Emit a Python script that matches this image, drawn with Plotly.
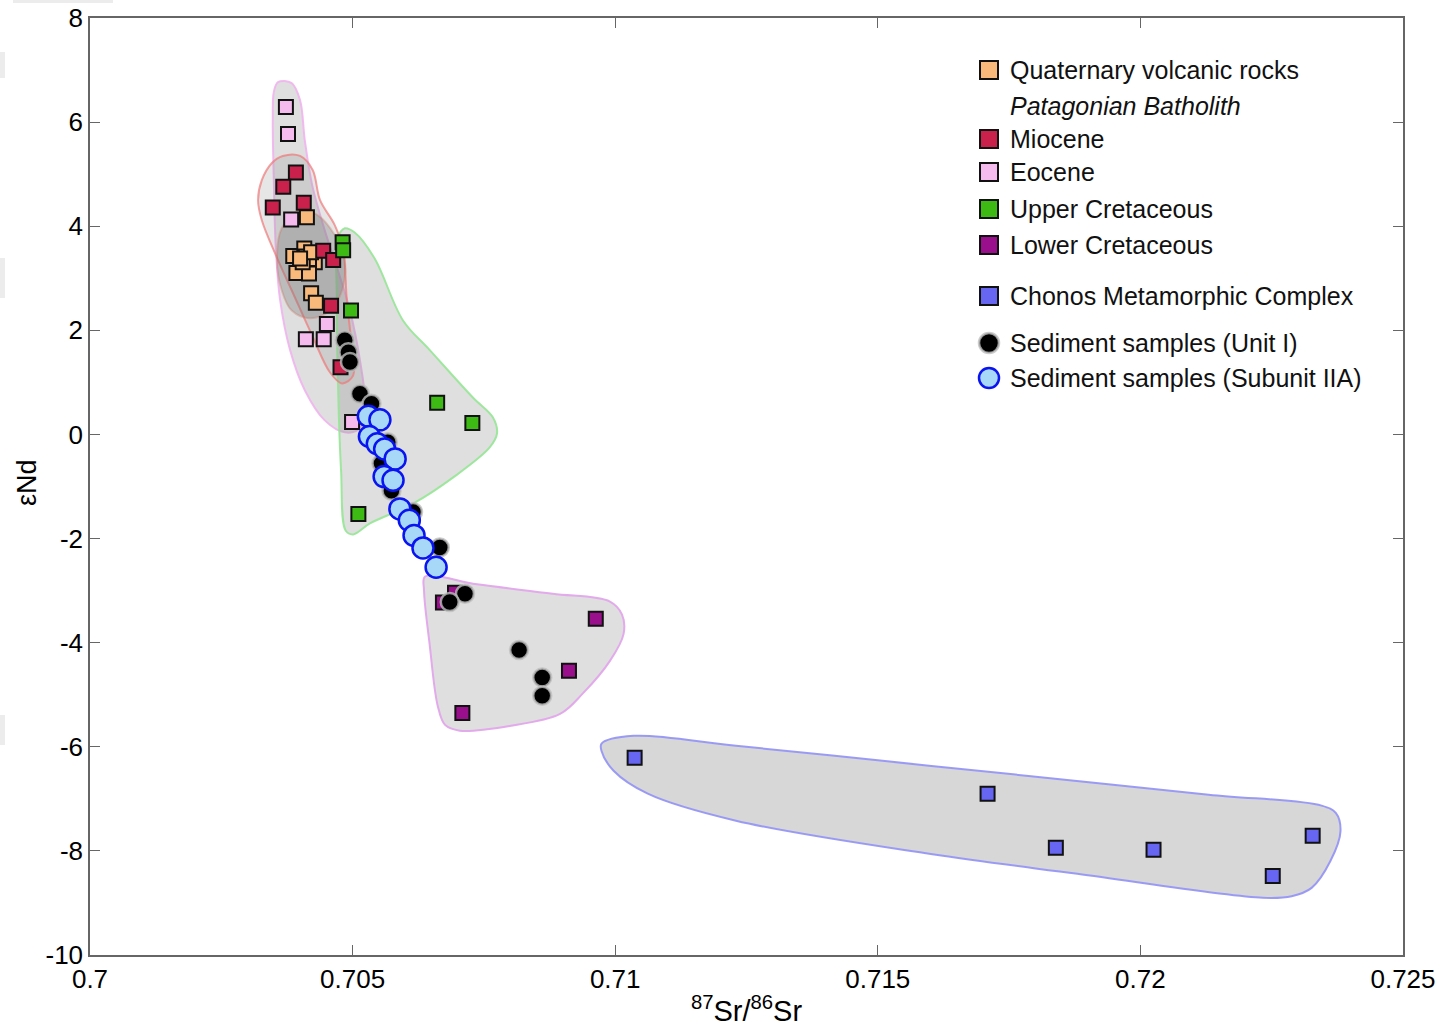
import plotly.graph_objects as go

# ---------------- data (87Sr/86Sr, eNd) ----------------
quat_x = [0.70413, 0.70387, 0.70408, 0.70428, 0.70393, 0.70417, 0.70421, 0.70430,
          0.70411, 0.70417, 0.70405, 0.70421, 0.70400]
quat_y = [4.17, 3.43, 3.57, 3.31, 3.10, 3.09, 2.71, 2.53, 3.42, 3.37, 3.31, 3.50, 3.38]

mio_x = [0.70392, 0.70368, 0.70348, 0.70407, 0.70444, 0.70463, 0.70459, 0.70477]
mio_y = [5.03, 4.76, 4.36, 4.45, 3.53, 3.35, 2.47, 1.29]

eoc_x = [0.70373, 0.70377, 0.70383, 0.70451, 0.70411, 0.70445, 0.70499]
eoc_y = [6.29, 5.77, 4.13, 2.12, 1.83, 1.83, 0.24]

ucr_x = [0.70481, 0.70482, 0.70497, 0.70661, 0.70728, 0.70511]
ucr_y = [3.69, 3.54, 2.38, 0.61, 0.22, -1.53]

lcr_x = [0.70963, 0.70912, 0.70709, 0.70672, 0.70695]
lcr_y = [-3.54, -4.54, -5.35, -3.23, -3.04]

cho_x = [0.71037, 0.71709, 0.71839, 0.72025, 0.72252, 0.72328]
cho_y = [-6.21, -6.90, -7.94, -7.98, -8.48, -7.71]

u1_x = [0.70485, 0.70492, 0.70495, 0.70514, 0.70536, 0.70567, 0.70555, 0.70574,
        0.70615, 0.70666, 0.70714, 0.70685, 0.70817, 0.70861, 0.70861]
u1_y = [1.81, 1.58, 1.39, 0.78, 0.59, -0.15, -0.56, -1.08,
        -1.49, -2.17, -3.06, -3.22, -4.14, -4.67, -5.02]

u2_x = [0.70530, 0.70552, 0.70532, 0.70547, 0.70561, 0.70581, 0.70560, 0.70577,
        0.70590, 0.70608, 0.70617, 0.70634, 0.70659]
u2_y = [0.35, 0.28, -0.04, -0.18, -0.28, -0.47, -0.81, -0.88,
        -1.43, -1.65, -1.94, -2.18, -2.55]

# ---------------- field outlines (data units) ----------------
eoc_fx = [0.70358, 0.70384, 0.70400, 0.70409, 0.70423, 0.70447, 0.70472, 0.70495, 0.70514,
          0.70523, 0.70514, 0.70485, 0.70447, 0.70409, 0.70381, 0.70362, 0.70354, 0.70350,
          0.70348, 0.70350, 0.70358]
eoc_fy = [6.77, 6.75, 6.42, 5.65, 4.79, 3.92, 3.15, 2.38, 1.42,
          0.65, 0.12, 0.04, 0.27, 0.85, 1.62, 2.58, 3.54, 4.88,
          6.04, 6.58, 6.77]

mio_fx = [0.70367, 0.70400, 0.70424, 0.70438, 0.70466, 0.70482, 0.70489, 0.70499, 0.70501,
          0.70480, 0.70457, 0.70423, 0.70384, 0.70354, 0.70327, 0.70320, 0.70327, 0.70346,
          0.70367]
mio_fy = [5.35, 5.35, 5.08, 4.50, 4.02, 3.54, 2.58, 1.62, 1.13,
          0.98, 1.19, 1.90, 2.77, 3.44, 4.12, 4.50, 4.88, 5.21,
          5.35]

quat_fx = [0.70400, 0.70434, 0.70466, 0.70485, 0.70480, 0.70457, 0.70419, 0.70384,
           0.70365, 0.70356, 0.70365, 0.70400]
quat_fy = [4.31, 4.21, 3.83, 3.35, 2.77, 2.38, 2.23, 2.38,
           2.77, 3.35, 3.96, 4.31]

ucr_fx = [0.70472, 0.70485, 0.70504, 0.70542, 0.70596, 0.70647, 0.70729, 0.70767, 0.70775,
          0.70761, 0.70691, 0.70615, 0.70533, 0.70501, 0.70487, 0.70478, 0.70472, 0.70470,
          0.70472]
ucr_fy = [3.77, 3.96, 3.88, 3.38, 2.19, 1.62, 0.71, 0.33, 0.02,
          -0.25, -0.83, -1.33, -1.71, -1.92, -1.85, -0.69, 1.04, 2.58,
          3.77]

lcr_fx = [0.70638, 0.70737, 0.70881, 0.70990, 0.71013, 0.71016, 0.70990, 0.70938, 0.70895,
          0.70799, 0.70704, 0.70676, 0.70662, 0.70647, 0.70636, 0.70638]
lcr_fy = [-2.73, -2.88, -3.06, -3.21, -3.46, -3.83, -4.35, -4.98, -5.37,
          -5.60, -5.69, -5.58, -5.21, -4.06, -3.00, -2.73]

cho_fx = [0.70974, 0.71035, 0.71230, 0.71509, 0.71787, 0.72130, 0.72345, 0.72372, 0.72381,
          0.72362, 0.72326, 0.72288, 0.72233, 0.71880, 0.71601, 0.71230, 0.71062, 0.70997,
          0.70974, 0.70974]
cho_fy = [-5.94, -5.79, -5.98, -6.27, -6.56, -6.92, -7.13, -7.27, -7.62,
          -8.19, -8.71, -8.87, -8.90, -8.44, -8.06, -7.42, -6.90, -6.46,
          -6.08, -5.94]

x_ticks = [0.7, 0.705, 0.71, 0.715, 0.72, 0.725]
x_tick_text = ["0.7", "0.705", "0.71", "0.715", "0.72", "0.725"]
y_ticks = [8, 6, 4, 2, 0, -2, -4, -6, -8, -10]
y_tick_text = ["8", "6", "4", "2", "0", "-2", "-4", "-6", "-8", "-10"]

legend_labels = ["Quaternary volcanic rocks", "Patagonian Batholith", "Miocene", "Eocene",
                 "Upper Cretaceous", "Lower Cretaceous", "Chonos Metamorphic Complex",
                 "Sediment samples (Unit I)", "Sediment samples (Subunit IIA)"]

# ---------------- styles ----------------
C_QUAT = "#F9B97A"
C_MIO = "#C9214B"
C_EOC = "#F5BAEE"
C_UCR = "#3DBB14"
C_LCR = "#990F8C"
C_CHO = "#6666F2"
C_U2 = "#A8D8F8"
FONT = "Liberation Sans, Arial, sans-serif"

fig = go.Figure()

def field(xs, ys, line_color, fill="rgba(140,140,140,0.28)"):
    fig.add_trace(go.Scatter(x=xs, y=ys, mode="lines", fill="toself", fillcolor=fill,
                             line=dict(color=line_color, width=2, shape="spline", smoothing=1.0),
                             hoverinfo="skip", showlegend=False))

field(eoc_fx, eoc_fy, "rgba(240,180,238,0.9)")
field(ucr_fx, ucr_fy, "rgba(150,230,150,0.9)")
field(mio_fx, mio_fy, "rgba(240,120,120,0.7)", "rgba(140,140,140,0.22)")
field(quat_fx, quat_fy, "rgba(200,120,100,0.35)", "rgba(110,110,110,0.30)")
field(lcr_fx, lcr_fy, "rgba(225,165,235,0.95)")
field(cho_fx, cho_fy, "rgba(150,150,245,0.95)", "rgba(150,150,150,0.38)")

def squares(xs, ys, color):
    fig.add_trace(go.Scatter(x=xs, y=ys, mode="markers",
                             marker=dict(symbol="square", size=14, color=color,
                                         line=dict(color="#111111", width=2)),
                             showlegend=False))

squares(eoc_x, eoc_y, C_EOC)
squares(quat_x, quat_y, C_QUAT)
squares(mio_x, mio_y, C_MIO)
squares(ucr_x, ucr_y, C_UCR)
squares(lcr_x, lcr_y, C_LCR)
squares(cho_x, cho_y, C_CHO)

fig.add_trace(go.Scatter(x=u1_x, y=u1_y, mode="markers",
                         marker=dict(symbol="circle", size=18, color="#000000",
                                     line=dict(color="rgba(190,190,190,0.8)", width=2.5)),
                         showlegend=False))
fig.add_trace(go.Scatter(x=u2_x, y=u2_y, mode="markers",
                         marker=dict(symbol="circle", size=21, color=C_U2,
                                     line=dict(color="#0A14F0", width=2.5)),
                         showlegend=False))

# ---------------- manual legend ----------------
plot_l, plot_r, plot_t, plot_b = 90, 1403, 18, 955
def px_x(p):
    return (p - plot_l) / (plot_r - plot_l)
def px_y(p):
    return (plot_b - p) / (plot_b - plot_t)

leg_rows = [70, 106, 139, 172, 209, 245, 296, 343, 378]
leg_kind = ["sq", None, "sq", "sq", "sq", "sq", "sq", "c1", "c2"]
leg_color = [C_QUAT, None, C_MIO, C_EOC, C_UCR, C_LCR, C_CHO, "#000000", C_U2]
shapes = []
annotations = []
for row, kind, col, lab in zip(leg_rows, leg_kind, leg_color, legend_labels):
    ypos = px_y(row)
    if kind == "sq":
        shapes.append(dict(type="rect", xref="paper", yref="paper", xsizemode="pixel",
                           ysizemode="pixel", xanchor=px_x(989), yanchor=ypos,
                           x0=-9, x1=9, y0=-9, y1=9, fillcolor=col,
                           line=dict(color="#111111", width=2)))
    elif kind == "c1":
        shapes.append(dict(type="circle", xref="paper", yref="paper", xsizemode="pixel",
                           ysizemode="pixel", xanchor=px_x(989), yanchor=ypos,
                           x0=-10, x1=10, y0=-10, y1=10, fillcolor=col,
                           line=dict(color="rgba(190,190,190,0.8)", width=2.5)))
    elif kind == "c2":
        shapes.append(dict(type="circle", xref="paper", yref="paper", xsizemode="pixel",
                           ysizemode="pixel", xanchor=px_x(989), yanchor=ypos,
                           x0=-10, x1=10, y0=-10, y1=10, fillcolor=col,
                           line=dict(color="#0A14F0", width=2.5)))
    text = lab if kind is not None else "<i>" + lab + "</i>"
    annotations.append(dict(x=px_x(1008), y=ypos, xref="paper", yref="paper",
                            xanchor="left", yanchor="middle", showarrow=False,
                            text=text, font=dict(family=FONT, size=25, color="#111111")))

# y-axis title
annotations.append(dict(x=px_x(27), y=px_y(483), xref="paper", yref="paper",
                        xanchor="center", yanchor="middle", showarrow=False, textangle=-90,
                        text="εNd", font=dict(family=FONT, size=27, color="#000000")))

# faint grey artifacts at the page edge
for (x0, y0, x1, y1) in [(0, 52, 5, 78), (0, 258, 5, 298), (0, 715, 5, 745), (13, 0, 113, 3)]:
    shapes.append(dict(type="rect", xref="paper", yref="paper",
                       x0=px_x(x0), x1=px_x(x1), y0=px_y(y1), y1=px_y(y0),
                       fillcolor="#ececec", line=dict(width=0), layer="below"))

fig.update_layout(
    width=1447, height=1035,
    margin=dict(l=plot_l, r=1447 - plot_r, t=plot_t, b=1035 - plot_b, autoexpand=False),
    paper_bgcolor="white", plot_bgcolor="white",
    font=dict(family=FONT, size=26, color="#000000"),
    shapes=shapes, annotations=annotations, showlegend=False,
)
fig.update_xaxes(range=[0.7, 0.725], tickvals=x_ticks, ticktext=x_tick_text,
                 showgrid=False, zeroline=False, showline=True, mirror="ticks",
                 linecolor="#666666", linewidth=1.5, ticks="inside", ticklen=10,
                 tickcolor="#666666", tickwidth=1.2, automargin=False,
                 tickfont=dict(family=FONT, size=26, color="#000000"),
                 title=dict(text="<sup>87</sup>Sr/<sup>86</sup>Sr", standoff=8,
                            font=dict(family=FONT, size=29, color="#000000")))
fig.update_yaxes(range=[-10, 8], tickvals=y_ticks, ticktext=y_tick_text,
                 showgrid=False, zeroline=False, showline=True, mirror="ticks",
                 linecolor="#666666", linewidth=1.5, ticks="inside", ticklen=10,
                 tickcolor="#666666", tickwidth=1.2, automargin=False,
                 tickfont=dict(family=FONT, size=26, color="#000000"))

fig.write_html("out.html", config={"displayModeBar": False},
               post_script="document.body.style.margin='0';")
